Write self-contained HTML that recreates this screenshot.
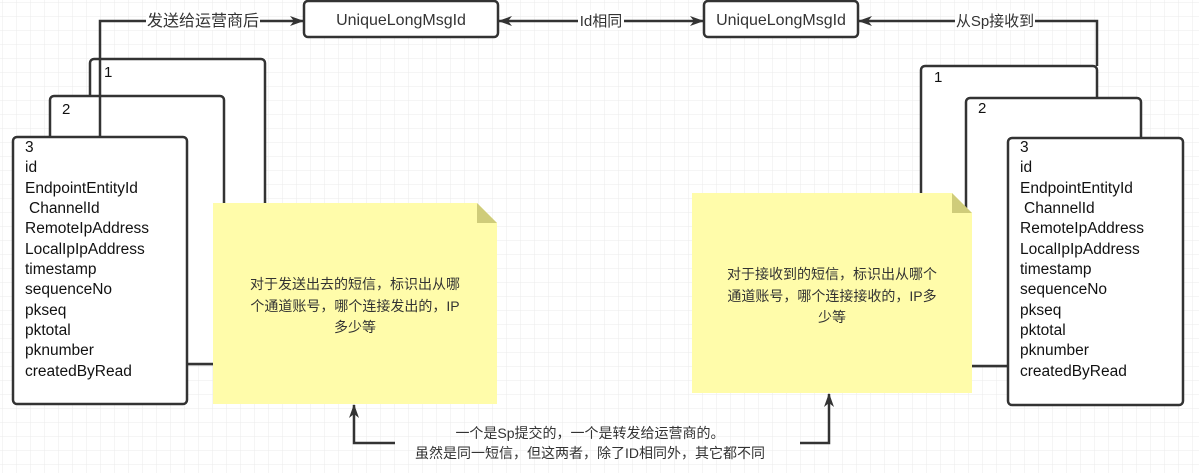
<!DOCTYPE html>
<html><head><meta charset="utf-8"><style>
body{margin:0;background:#fff;}
svg{display:block;font-family:"Liberation Sans","Noto Sans CJK SC",sans-serif;}
</style></head><body>
<svg width="1199" height="473" viewBox="0 0 1199 473" xmlns="http://www.w3.org/2000/svg">
<defs>
<pattern id="g" width="14" height="14" patternUnits="userSpaceOnUse" x="3" y="3">
<path d="M14 0V14M0 14H14" fill="none" stroke="#ebebeb" stroke-width="1"/>
</pattern>
<marker id="a" markerWidth="14" markerHeight="12" refX="13" refY="6" orient="auto" markerUnits="userSpaceOnUse">
<path d="M0 1L14 6L0 11L4 6Z" fill="#333"/></marker>
</defs>
<rect width="1199" height="473" fill="url(#g)"/>
<g stroke="#333" stroke-width="2.5" fill="#fff">
<rect x="304" y="1" width="194" height="36" rx="4"/>
<rect x="704" y="1" width="154" height="36" rx="4"/>
<rect x="90" y="59" width="175" height="305" rx="4"/>
<rect x="50" y="96" width="174" height="268" rx="4"/>
<rect x="13" y="137" width="174" height="267" rx="4"/>
<rect x="921" y="66" width="176" height="300" rx="4"/>
<rect x="966" y="98" width="175" height="268" rx="4"/>
<rect x="1008" y="138" width="175" height="267" rx="4"/>
</g>
<g stroke="#333" stroke-width="2.5" fill="none">
<path d="M100 137V21H303" marker-end="url(#a)"/>
<path d="M550 21H703" marker-end="url(#a)"/>
<path d="M550 21H499" marker-end="url(#a)"/>
<path d="M1097 66V21H859" marker-end="url(#a)"/>
<path d="M395 443H354V405" marker-end="url(#a)"/>
<path d="M800 443H829V394" marker-end="url(#a)"/>
</g>
<rect x="146" y="10" width="114" height="20" fill="#fff"/>
<text x="203" y="26" font-size="16" text-anchor="middle" fill="#333">发送给运营商后</text>
<rect x="578" y="10" width="46" height="20" fill="#fff"/>
<text x="601" y="26" font-size="15" text-anchor="middle" fill="#333">Id相同</text>
<rect x="955" y="10" width="80" height="20" fill="#fff"/>
<text x="995" y="26" font-size="15" text-anchor="middle" fill="#333">从Sp接收到</text>
<text x="401" y="25" font-size="16" text-anchor="middle" fill="#333">UniqueLongMsgId</text>
<text x="781" y="25" font-size="16" text-anchor="middle" fill="#333">UniqueLongMsgId</text>
<path d="M213 203H477L497 223V404H213Z" fill="#fffcaa"/>
<path d="M477 203L497 223H477Z" fill="#cfcc7a"/>
<path d="M692 193H952L972 213V393H692Z" fill="#fffcaa"/>
<path d="M952 193L972 213H952Z" fill="#cfcc7a"/>
<g font-size="14" fill="#333" text-anchor="middle">
<text x="355" y="289">对于发送出去的短信，标识出从哪</text>
<text x="355" y="311">个通道账号，哪个连接发出的，IP</text>
<text x="355" y="332">多少等</text>
<text x="832" y="279">对于接收到的短信，标识出从哪个</text>
<text x="832" y="301">通道账号，哪个连接接收的，IP多</text>
<text x="832" y="322">少等</text>
<text x="590" y="438">一个是Sp提交的，一个是转发给运营商的。</text>
<text x="590" y="458">虽然是同一短信，但这两者，除了ID相同外，其它都不同</text>
</g>
<g font-size="15" fill="#111">
<text x="104" y="77">1</text>
<text x="62" y="114">2</text>
<text x="934" y="82">1</text>
<text x="978" y="113">2</text>
</g>
<g font-size="15.5" fill="#111">
<text x="25" y="152">3</text><text x="25" y="172">id</text><text x="25" y="193">EndpointEntityId</text><text x="29" y="213">ChannelId</text><text x="25" y="233">RemoteIpAddress</text><text x="25" y="254">LocalIpIpAddress</text><text x="25" y="274">timestamp</text><text x="25" y="294">sequenceNo</text><text x="25" y="315">pkseq</text><text x="25" y="335">pktotal</text><text x="25" y="355">pknumber</text><text x="25" y="376">createdByRead</text>
</g>
<g font-size="15.5" fill="#111">
<text x="1020" y="152">3</text><text x="1020" y="172">id</text><text x="1020" y="193">EndpointEntityId</text><text x="1024" y="213">ChannelId</text><text x="1020" y="233">RemoteIpAddress</text><text x="1020" y="254">LocalIpIpAddress</text><text x="1020" y="274">timestamp</text><text x="1020" y="294">sequenceNo</text><text x="1020" y="315">pkseq</text><text x="1020" y="335">pktotal</text><text x="1020" y="355">pknumber</text><text x="1020" y="376">createdByRead</text>
</g>
</svg>
</body></html>
